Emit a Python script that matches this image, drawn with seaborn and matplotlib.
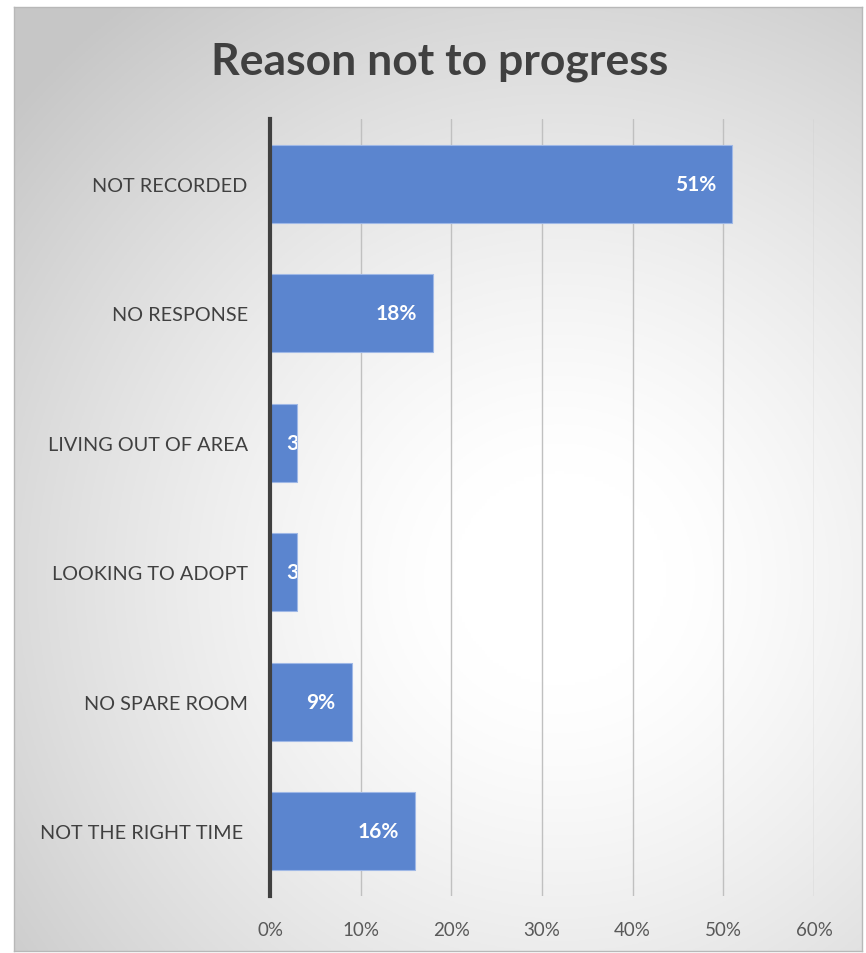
import numpy as np
import pandas as pd
import matplotlib
matplotlib.use('Agg')
import matplotlib.pyplot as plt
import seaborn as sns

# ==========================================
# data
# ==========================================
categories = ['NOT RECORDED', 'NO RESPONSE', 'LIVING OUT OF AREA',
              'LOOKING TO ADOPT', 'NO SPARE ROOM', 'NOT THE RIGHT TIME ']
values = [51, 18, 3, 3, 9, 16]
xticks = [0, 10, 20, 30, 40, 50, 60]
xtick_labels = ['0%', '10%', '20%', '30%', '40%', '50%', '60%']
title = 'Reason not to progress'

df = pd.DataFrame({'reason': categories, 'pct': values})

sns.set_style('white')
plt.rcParams['font.family'] = ['Lato', 'DejaVu Sans']

W, H = 866, 954
fig = plt.figure(figsize=(W / 100, H / 100), dpi=100)
fig.patch.set_facecolor('white')

# --- chart area with radial gradient background ---
bx0, bx1, by0, by1 = 14, 862, 8, 952   # pixel box (top based)
bg = fig.add_axes([bx0 / W, 1 - by1 / H, (bx1 - bx0) / W, (by1 - by0) / H])
gx, gy = np.meshgrid(np.linspace(bx0, bx1, 300), np.linspace(by0, by1, 300))
r = np.hypot(gx - 560, gy - 580) / 720
shade = np.clip(1 - 0.22 * np.clip((r - 0.15) / 0.85, 0, 1) ** 1.3, 0, 1)
img = np.dstack([shade, shade, shade])
bg.imshow(img, extent=[0, 1, 0, 1], aspect='auto', origin='upper', zorder=0)
bg.set_xticks([])
bg.set_yticks([])
for s in bg.spines.values():
    s.set_color('#b8b8b8')
    s.set_linewidth(1)

# --- main bar axes ---
ax = fig.add_axes([270 / W, 57 / H, 544 / W, 777 / H])
ax.set_facecolor('none')
sns.barplot(data=df, x='pct', y='reason', orient='h', color='#5B85CF',
            saturation=1, width=0.6, edgecolor='#9fb8e6', linewidth=0.8,
            ax=ax, zorder=3)
ax.set_xlim(0, 60)
ax.set_xticks(xticks)
ax.set_xticklabels(xtick_labels)
ax.set_xlabel('')
ax.set_ylabel('')
ax.grid(axis='x', color='#c0c0c0', linewidth=1, zorder=0)
ax.grid(axis='y', visible=False)
for s in ['top', 'right', 'bottom']:
    ax.spines[s].set_visible(False)
ax.spines['left'].set_color('#404040')
ax.spines['left'].set_linewidth(3)
ax.spines['left'].set_zorder(4)
ax.tick_params(axis='x', length=0, pad=18, labelsize=13.5, labelcolor='#595959')
ax.tick_params(axis='y', length=0, pad=16, labelsize=14.3, labelcolor='#404040')

# value labels, clipped to the bar like the original
for bar, v in zip(ax.patches, values):
    yc = bar.get_y() + bar.get_height() / 2
    if v < 6:
        t = ax.text(1.8, yc, f'{v}%', ha='left', va='center', color='white',
                    fontsize=15, fontweight='bold', zorder=5, clip_on=True)
    else:
        t = ax.text(v - 1.8, yc, f'{v}%', ha='right', va='center', color='white',
                    fontsize=15, fontweight='bold', zorder=5, clip_on=True)
    t.set_clip_path(bar)

fig.text(0.508, 1 - 62 / H, title, ha='center', va='center', fontsize=32,
         fontweight='bold', color='#404040')

fig.savefig('out.png', dpi=100, facecolor='white')
